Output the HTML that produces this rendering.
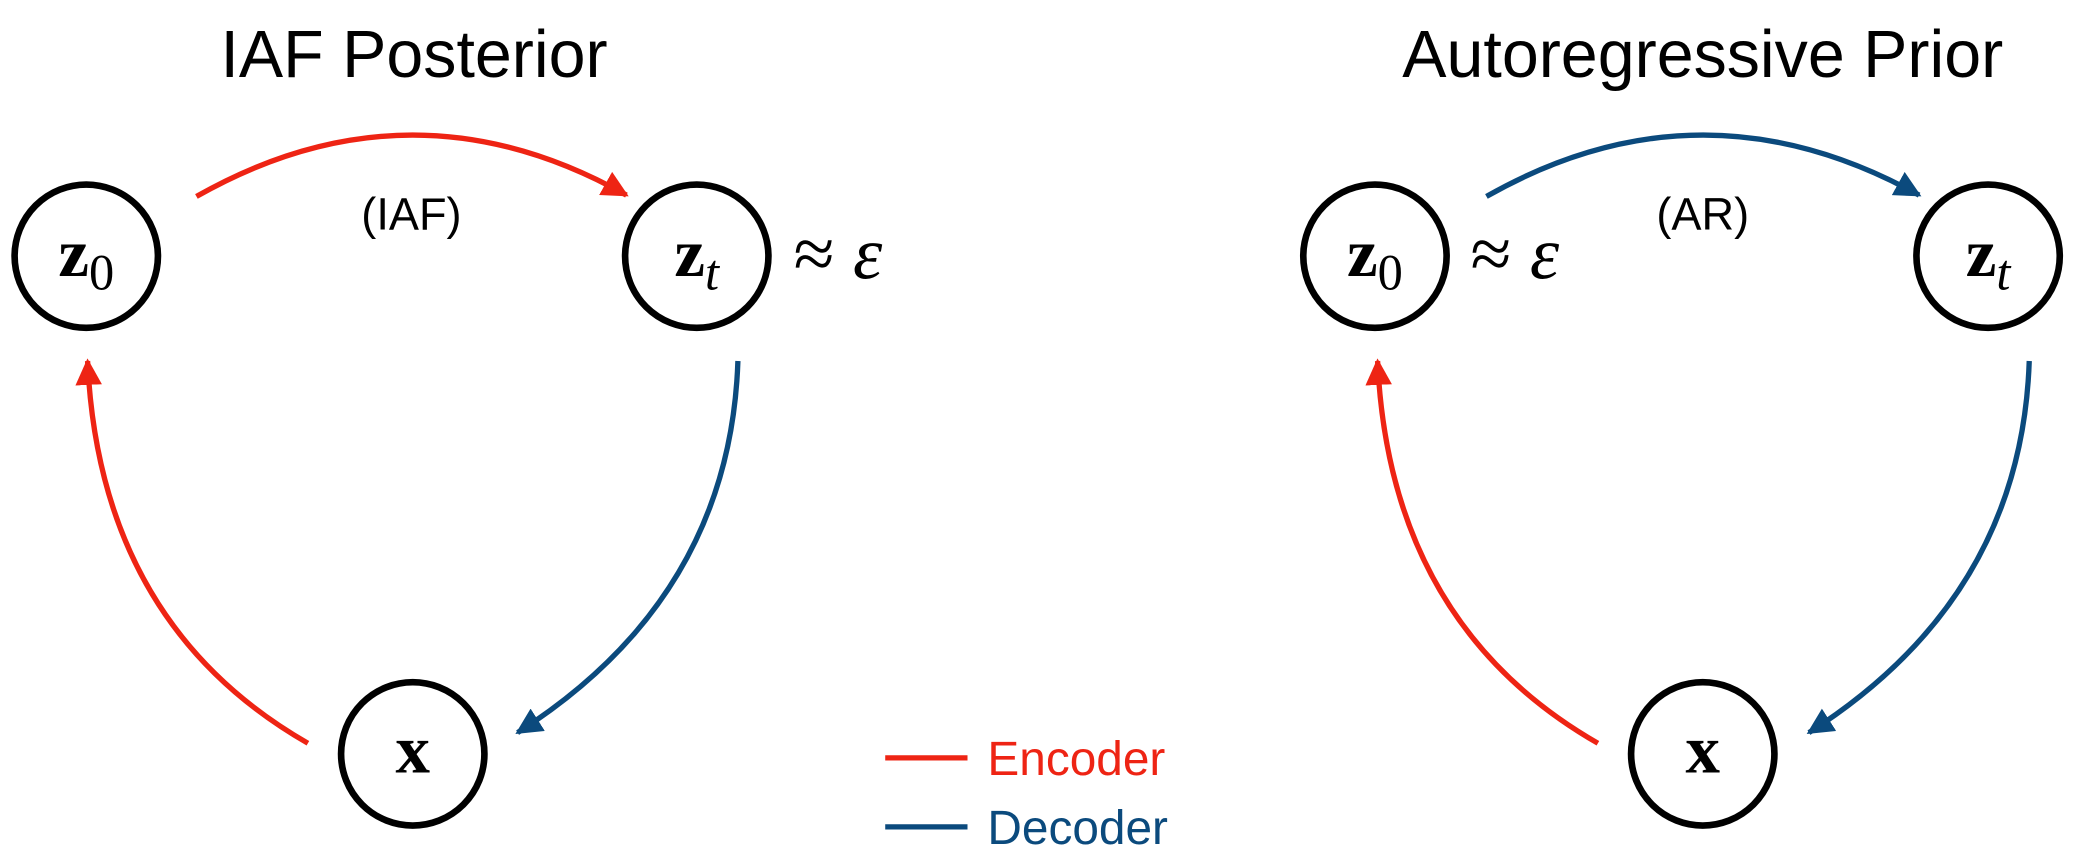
<!DOCTYPE html>
<html><head><meta charset="utf-8"><style>
html,body{margin:0;padding:0;background:#fff;}
svg{display:block;}
.t{font-family:"Liberation Sans",sans-serif;}
.m{font-family:"Liberation Serif",serif;}
</style></head><body>
<svg width="2081" height="861" viewBox="0 0 1568 648.7">
<defs>
<marker id="ar" viewBox="0 0 10 10" refX="9" refY="5" markerWidth="5" markerHeight="5" orient="auto" markerUnits="strokeWidth"><path d="M0,0 L10,5 L0,10 z" fill="#ee2414"/></marker>
<marker id="ab" viewBox="0 0 10 10" refX="9" refY="5" markerWidth="5" markerHeight="5" orient="auto" markerUnits="strokeWidth"><path d="M0,0 L10,5 L0,10 z" fill="#0b4a7d"/></marker>
</defs>
<g>
<text class="t" x="312" y="58" font-size="50" text-anchor="middle">IAF Posterior</text>
<circle cx="65" cy="193" r="54" fill="none" stroke="#000" stroke-width="5"/>
<text class="m" x="65" y="208" font-size="52" text-anchor="middle"><tspan font-weight="bold">z</tspan><tspan font-size="38" dy="10">0</tspan></text>
<circle cx="525" cy="193" r="54" fill="none" stroke="#000" stroke-width="5"/>
<text class="m" x="525" y="208" font-size="52" text-anchor="middle"><tspan font-weight="bold">z</tspan><tspan font-size="38" font-style="italic" dy="10">t</tspan></text>
<circle cx="311" cy="568" r="54" fill="none" stroke="#000" stroke-width="5"/>
<text class="m" x="311" y="582" font-size="52" font-weight="bold" text-anchor="middle">x</text>
<text class="m" x="598" y="210" font-size="56">≈ <tspan font-style="italic">ε</tspan></text>
<path d="M148,148 Q310,56 472,147" fill="none" stroke="#ee2414" stroke-width="4" marker-end="url(#ar)"/>
<text class="t" x="310" y="173" font-size="34" text-anchor="middle">(IAF)</text>
<path d="M556,272 Q550,450 390,552" fill="none" stroke="#0b4a7d" stroke-width="4" marker-end="url(#ab)"/>
<path d="M232,560 Q75,470 66,272" fill="none" stroke="#ee2414" stroke-width="4" marker-end="url(#ar)"/>
</g>
<g>
<text class="t" x="1283" y="58" font-size="50" text-anchor="middle">Autoregressive Prior</text>
<circle cx="1036" cy="193" r="54" fill="none" stroke="#000" stroke-width="5"/>
<text class="m" x="1036" y="208" font-size="52" text-anchor="middle"><tspan font-weight="bold">z</tspan><tspan font-size="38" dy="10">0</tspan></text>
<circle cx="1498" cy="193" r="54" fill="none" stroke="#000" stroke-width="5"/>
<text class="m" x="1498" y="208" font-size="52" text-anchor="middle"><tspan font-weight="bold">z</tspan><tspan font-size="38" font-style="italic" dy="10">t</tspan></text>
<circle cx="1283" cy="568" r="54" fill="none" stroke="#000" stroke-width="5"/>
<text class="m" x="1283" y="582" font-size="52" font-weight="bold" text-anchor="middle">x</text>
<text class="m" x="1108" y="210" font-size="56">≈ <tspan font-style="italic">ε</tspan></text>
<path d="M1120,148 Q1282,56 1446,147" fill="none" stroke="#0b4a7d" stroke-width="4" marker-end="url(#ab)"/>
<text class="t" x="1283" y="173" font-size="34" text-anchor="middle">(AR)</text>
<path d="M1529,272 Q1523,450 1363,552" fill="none" stroke="#0b4a7d" stroke-width="4" marker-end="url(#ab)"/>
<path d="M1204,560 Q1047,470 1038,272" fill="none" stroke="#ee2414" stroke-width="4" marker-end="url(#ar)"/>
</g>
<g>
<line x1="667" y1="571" x2="729" y2="571" stroke="#ee2414" stroke-width="4"/>
<text class="t" x="744" y="584" font-size="36" fill="#ee2414">Encoder</text>
<line x1="667" y1="623" x2="729" y2="623" stroke="#0b4a7d" stroke-width="4"/>
<text class="t" x="744" y="636" font-size="36" fill="#0b4a7d">Decoder</text>
</g>
</svg>
</body></html>
